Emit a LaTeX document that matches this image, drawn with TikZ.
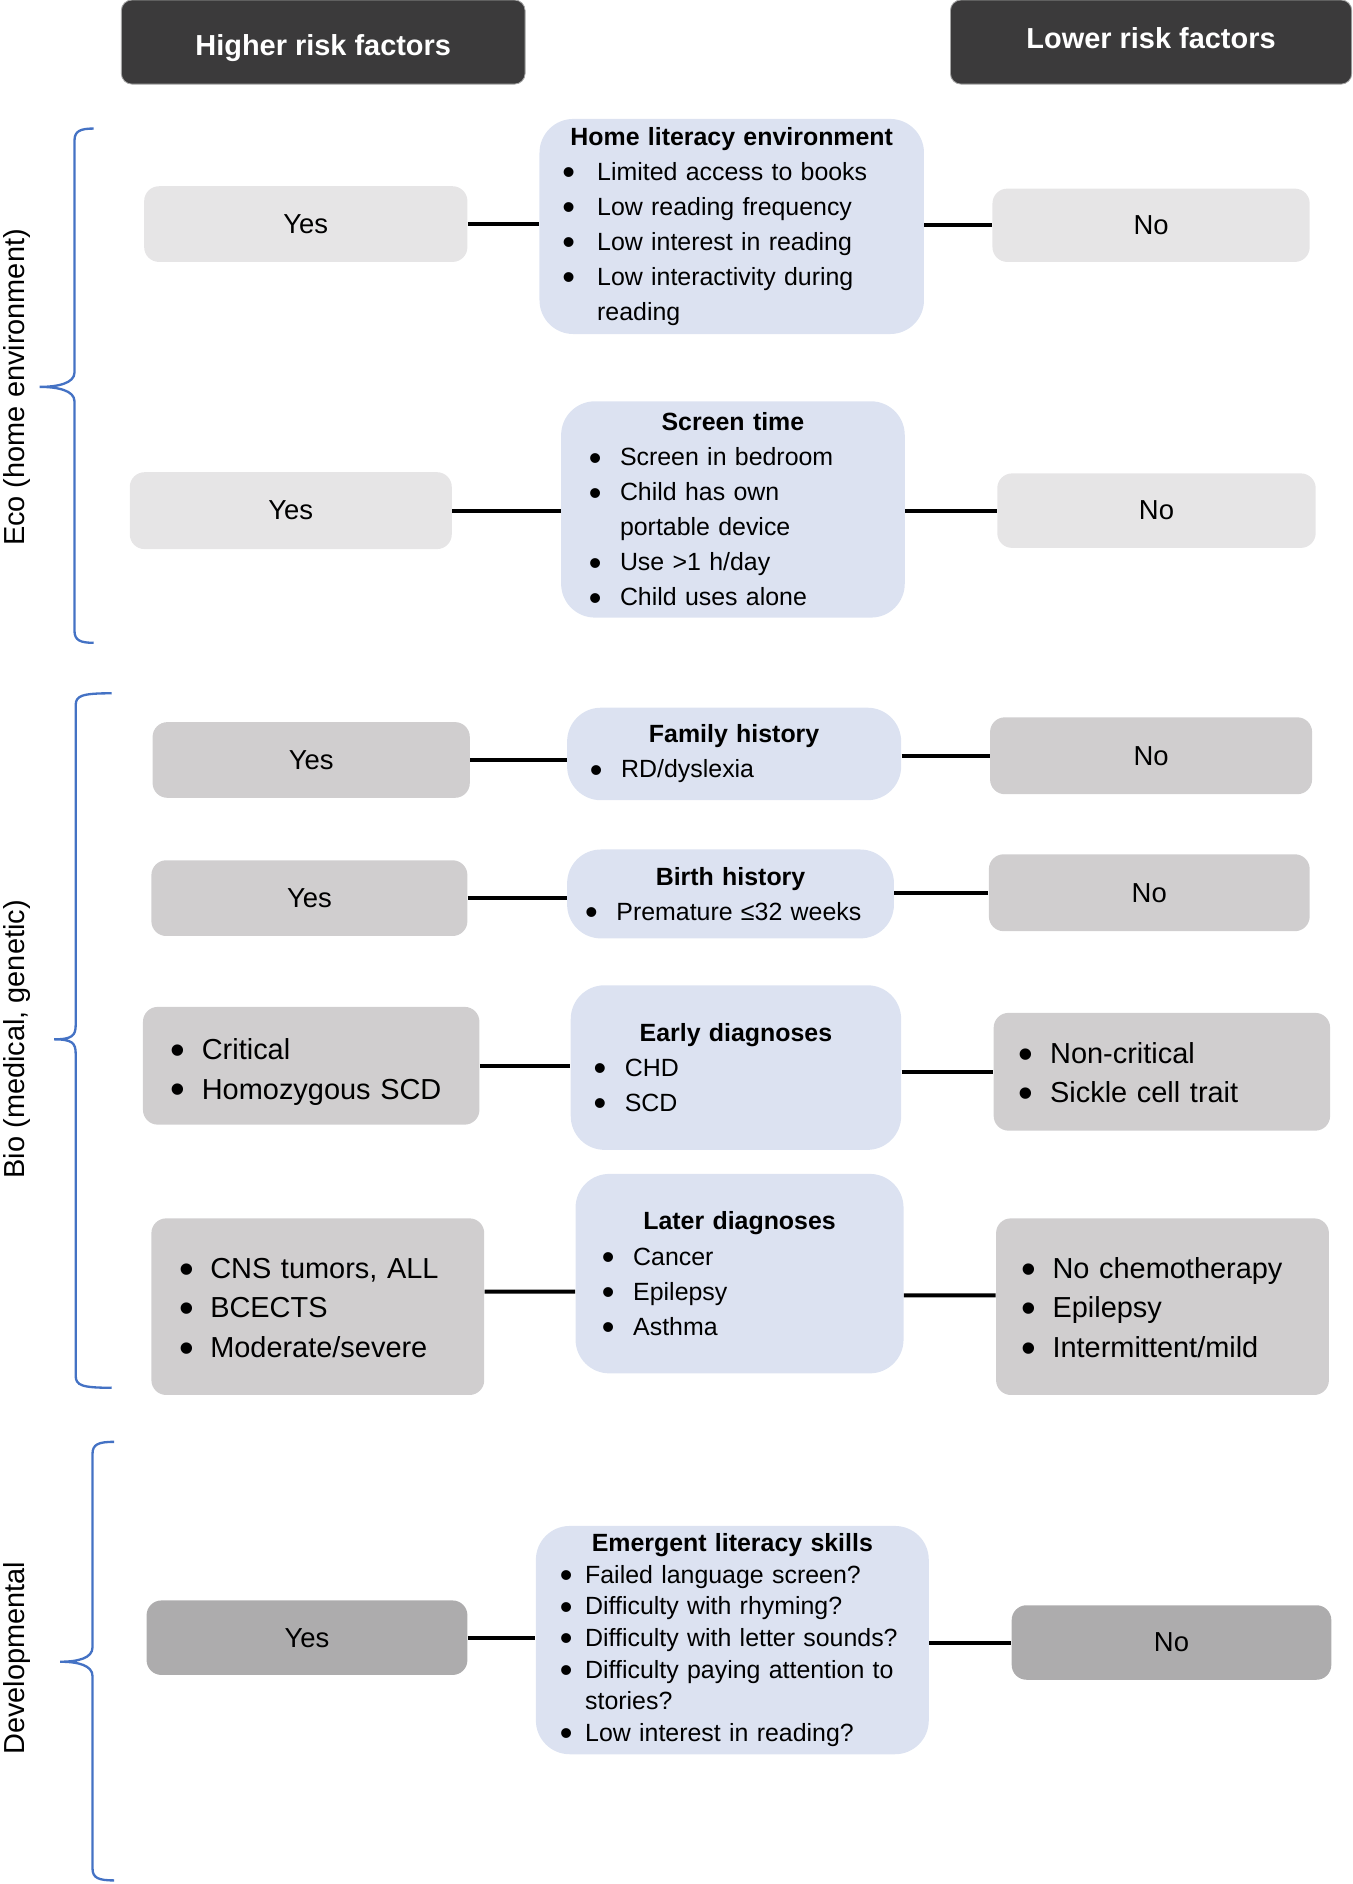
\documentclass[tikz,border=0pt]{standalone}
\usepackage{fontspec}
\setmainfont{Liberation Sans}
\definecolor{headgray}{HTML}{3B3A3B}
\definecolor{lite}{HTML}{E6E5E6}
\definecolor{mid}{HTML}{D0CECF}
\definecolor{deep}{HTML}{ADACAD}
\definecolor{pale}{HTML}{DCE2F1}
\definecolor{bracecol}{HTML}{4472C4}
\newlength{\bulind}\setlength{\bulind}{0.52cm}
\newcommand{\bul}[1]{\par\hangindent=\bulind\hangafter=1\makebox[\bulind][l]{\smash{\raisebox{-0.17em}{\scalebox{1.45}{\textbullet}}}}#1\par}
\tikzset{
  header/.style={fill=headgray, draw=gray!70, rounded corners=5pt, text=white, minimum width=6.72cm, minimum height=1.4cm, font=\fontsize{13.7}{16}\selectfont\bfseries},
  answer/.style={fill=#1, rounded corners=7pt, font=\fontsize{13}{16}\selectfont},
  listing/.style={align=left, font=\fontsize{13.7}{18.6}\selectfont},
  factor/.style={fill=pale, rounded corners=16pt, inner sep=0pt, align=left, font=\fontsize{11.8}{16.6}\selectfont},
  link/.style={line width=1.9pt},
  grpline/.style={draw=bracecol, line width=1.1pt},
  sidelabel/.style={rotate=90, anchor=base, font=\fontsize{13.7}{16}\selectfont}
}
\begin{document}
\begin{tikzpicture}
  \useasboundingbox (0,0) rectangle (22.52,-31.36);
  \node [header, text height=0.46cm, text depth=0cm] (high) at (5.38,-0.7) {Higher risk factors};
  \node [header, minimum width=6.68cm, text height=0.3cm, text depth=0.08cm] (low) at (19.16,-0.7) {Lower risk factors};

  % groups
  \draw [grpline] (1.56,-2.14) .. controls (1.34,-2.14) and (1.24,-2.18) .. (1.24,-2.34) -- (1.24,-6.2) .. controls (1.24,-6.38) and (0.96,-6.44) .. (0.66,-6.44) .. controls (0.96,-6.44) and (1.24,-6.5) .. (1.24,-6.68) -- (1.24,-10.5) .. controls (1.24,-10.66) and (1.34,-10.7) .. (1.56,-10.7);
  \draw [grpline] (1.86,-11.54) .. controls (1.36,-11.54) and (1.26,-11.58) .. (1.26,-11.74) -- (1.26,-17.06) .. controls (1.26,-17.24) and (1.2,-17.3) .. (0.9,-17.3) .. controls (1.2,-17.3) and (1.26,-17.36) .. (1.26,-17.54) -- (1.26,-22.9) .. controls (1.26,-23.06) and (1.36,-23.1) .. (1.86,-23.1);
  \draw [grpline] (1.9,-24.0) .. controls (1.64,-24.0) and (1.54,-24.04) .. (1.54,-24.2) -- (1.54,-27.42) .. controls (1.54,-27.6) and (1.3,-27.66) .. (1.0,-27.66) .. controls (1.3,-27.66) and (1.54,-27.72) .. (1.54,-27.9) -- (1.54,-31.1) .. controls (1.54,-31.26) and (1.64,-31.3) .. (1.9,-31.3);
  \node [sidelabel] (eco) at (0.4,-6.45) {Eco (home environment)};
  \node [sidelabel] (bio) at (0.4,-17.3) {Bio (medical, genetic)};
  \node [sidelabel] (dev) at (0.4,-27.6) {Developmental};

  % eco
  \node [answer=lite, minimum width=5.38cm, minimum height=1.26cm] (yes1) at (5.09,-3.73) {Yes};
  \node [factor, minimum width=6.4cm, minimum height=3.58cm, text width=5.64cm] (home) at (12.18,-3.77)
    {\setlength{\bulind}{0.58cm}{\centering\bfseries Home literacy environment\par}\bul{Limited access to books}\bul{Low reading frequency}\bul{Low interest in reading}\bul{Low interactivity during\newline reading}};
  \node [answer=lite, minimum width=5.28cm, minimum height=1.22cm] (no1) at (19.16,-3.75) {No};
  \node [answer=lite, minimum width=5.36cm, minimum height=1.28cm] (yes2) at (4.84,-8.5) {Yes};
  \node [factor, minimum width=5.72cm, minimum height=3.6cm, text width=4.8cm] (screen) at (12.2,-8.48)
    {{\centering\bfseries Screen time\par}\bul{Screen in bedroom}\bul{Child has own\newline portable device}\bul{Use >1 h/day}\bul{Child uses alone}};
  \node [answer=lite, minimum width=5.3cm, minimum height=1.24cm] (no2) at (19.25,-8.5) {No};

  % bio
  \node [answer=mid, minimum width=5.28cm, minimum height=1.26cm] (yes3) at (5.18,-12.65) {Yes};
  \node [factor, minimum width=5.56cm, minimum height=1.54cm, text width=4.8cm] (family) at (12.22,-12.55)
    {{\centering\bfseries Family history\par}\bul{RD/dyslexia}};
  \node [answer=mid, minimum width=5.36cm, minimum height=1.28cm] (no3) at (19.16,-12.58) {No};
  \node [answer=mid, minimum width=5.26cm, minimum height=1.26cm] (yes4) at (5.15,-14.95) {Yes};
  \node [factor, minimum width=5.44cm, minimum height=1.48cm, text width=4.84cm] (birth) at (12.16,-14.88)
    {{\centering\bfseries Birth history\par}\bul{Premature ≤32 weeks}};
  \node [answer=mid, minimum width=5.34cm, minimum height=1.28cm] (no4) at (19.13,-14.86) {No};
  \node [answer=mid, listing, minimum width=5.6cm, minimum height=1.96cm, text width=4.68cm] (crit) at (5.18,-17.74)
    {\bul{Critical}\bul{Homozygous SCD\rule[-2mm]{0pt}{1pt}}};
  \node [factor, minimum width=5.5cm, minimum height=2.74cm, text width=4.74cm] (early) at (12.25,-17.77)
    {{\centering\bfseries Early diagnoses\par}\bul{CHD}\bul{SCD}};
  \node [answer=mid, listing, minimum width=5.6cm, minimum height=1.96cm, text width=4.76cm] (noncrit) at (19.34,-17.84)
    {\bul{Non-critical}\bul{Sickle cell trait\rule[-2.8mm]{0pt}{1pt}}};
  \node [answer=mid, listing, minimum width=5.54cm, minimum height=2.94cm, text width=4.62cm] (cns) at (5.29,-21.75)
    {\bul{CNS tumors, ALL}\bul{BCECTS}\bul{Moderate/severe\rule[-2.8mm]{0pt}{1pt}}};
  \node [factor, minimum width=5.46cm, minimum height=3.32cm, text width=4.58cm] (later) at (12.31,-21.2)
    {{\centering\bfseries Later diagnoses\par}\bul{Cancer}\bul{Epilepsy}\bul{Asthma}};
  \node [answer=mid, listing, minimum width=5.54cm, minimum height=2.94cm, text width=4.7cm] (nochemo) at (19.35,-21.75)
    {\bul{No chemotherapy}\bul{Epilepsy}\bul{Intermittent/mild\rule[-2.8mm]{0pt}{1pt}}};

  % developmental
  \node [answer=deep, minimum width=5.34cm, minimum height=1.24cm] (yes7) at (5.11,-27.26) {Yes};
  \node [factor, minimum width=6.54cm, minimum height=3.8cm, text width=5.74cm, font=\fontsize{11.8}{15}\selectfont] (skills) at (12.19,-27.3)
    {\setlength{\bulind}{0.42cm}{\centering\bfseries Emergent literacy skills\par}\bul{Failed language screen?}\bul{Difficulty with rhyming?}\bul{Difficulty with letter sounds?}\bul{Difficulty paying attention to\newline stories?}\bul{Low interest in reading?}};
  \node [answer=deep, minimum width=5.32cm, minimum height=1.24cm] (no7) at (19.5,-27.34) {No};

  \draw [link] (yes1.east) -- (yes1.east -| home.west);
  \draw [link] (no1.west -| home.east) -- (no1.west);
  \draw [link] (yes2.east) -- (yes2.east -| screen.west);
  \draw [link] (no2.west -| screen.east) -- (no2.west);
  \draw [link] (yes3.east) -- (yes3.east -| family.west);
  \draw [link] (no3.west -| family.east) -- (no3.west);
  \draw [link] (yes4.east) -- (yes4.east -| birth.west);
  \draw [link] (no4.west -| birth.east) -- (no4.west);
  \draw [link] (crit.east) -- (crit.east -| early.west);
  \draw [link] (noncrit.west -| early.east) -- (noncrit.west);
  \draw [link] ([yshift=0.25cm]cns.east) -- ([yshift=-0.3cm]later.west);
  \draw [link] ([yshift=-0.36cm]later.east) -- ([yshift=0.19cm]nochemo.west);
  \draw [link] (yes7.east) -- (yes7.east -| skills.west);
  \draw [link] (no7.west -| skills.east) -- (no7.west);
\end{tikzpicture}
\end{document}
